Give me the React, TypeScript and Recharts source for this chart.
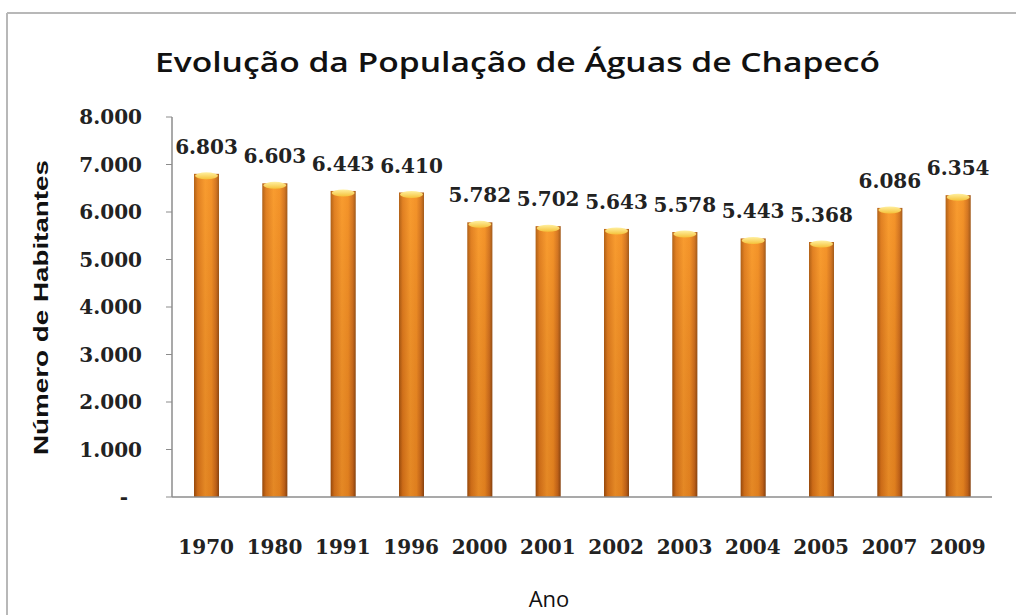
import React from 'react';
import { BarChart, Bar, XAxis, YAxis, LabelList } from 'recharts';

const years = ['1970', '1980', '1991', '1996', '2000', '2001', '2002', '2003', '2004', '2005', '2007', '2009'];
const population = [6803, 6603, 6443, 6410, 5782, 5702, 5643, 5578, 5443, 5368, 6086, 6354];
const yTicks = [0, 1000, 2000, 3000, 4000, 5000, 6000, 7000, 8000];

const data = years.map((year, i) => ({ year, value: population[i] }));

const fmt = (v: number) => {
  if (v === 0) return '-';
  const th = Math.floor(v / 1000);
  const rest = String(v % 1000).padStart(3, '0');
  return `${th}.${rest}`;
};

const serif = '"DejaVu Serif", serif';

const YTick = (props: any) => {
  const { x, y, payload } = props;
  const v = payload.value;
  if (v === 0) {
    return (
      <text x={x - 18} y={y} dy="0.35em" textAnchor="middle" fontFamily={serif} fontWeight="bold" fontSize={20} fill="#222">
        -
      </text>
    );
  }
  return (
    <text x={x} y={y} dy="0.35em" textAnchor="end" fontFamily={serif} fontWeight="bold" fontSize={20} fill="#222">
      {fmt(v)}
    </text>
  );
};

const XTick = (props: any) => {
  const { x, y, payload } = props;
  return (
    <text x={x} y={y} dy="0.71em" textAnchor="middle" fontFamily={serif} fontWeight="bold" fontSize={20} fill="#222">
      {payload.value}
    </text>
  );
};

const BarShape = (props: any) => {
  const { x, y, width, height } = props;
  if (!height || height <= 0) return null;
  return (
    <g>
      <rect x={x} y={y} width={width} height={height} fill="url(#barGrad)" />
      <rect x={x} y={y} width={width} height={height} fill="url(#barShade)" />
      <ellipse cx={x + width / 2} cy={y + 2} rx={width / 2 - 1} ry={3.5} fill="url(#capGrad)" />
    </g>
  );
};

export default function App() {
  return (
    <div style={{ position: 'absolute', left: 0, top: 0, width: 1016, height: 615, overflow: 'hidden', background: '#fff' }}>
      <svg width={1016} height={615} style={{ position: 'absolute', left: 0, top: 0 }}>
        <line x1={7} y1={13} x2={1016} y2={13} stroke="#b8b8b8" strokeWidth={2} />
        <line x1={7} y1={13} x2={7} y2={615} stroke="#b8b8b8" strokeWidth={2} />
        <text
          x={155}
          y={72}
          fontFamily='"Open Sans", sans-serif'
          fontWeight={600}
          fontSize={27}
          fill="#111"
          textLength={725}
          lengthAdjust="spacingAndGlyphs"
        >
          Evolução da População de Águas de Chapecó
        </text>
        <text
          transform="translate(48, 455) rotate(-90)"
          x={0}
          y={0}
          fontFamily='"Liberation Sans", Arial, sans-serif'
          fontWeight="bold"
          fontSize={21}
          fill="#111"
          textLength={295}
          lengthAdjust="spacingAndGlyphs"
        >
          Número de Habitantes
        </text>
        <text x={549} y={607} textAnchor="middle" fontFamily='"Open Sans", sans-serif' fontSize={22} fill="#111">
          Ano
        </text>
      </svg>
      <div style={{ position: 'absolute', left: 0, top: 0 }}>
        <BarChart width={1016} height={615} data={data} margin={{ top: 117, right: 24, left: 22, bottom: 58 }}>
          <defs>
            <linearGradient id="barGrad" x1="0" y1="0" x2="1" y2="0">
              <stop offset="0%" stopColor="#9a4a0c" />
              <stop offset="15%" stopColor="#d9731a" />
              <stop offset="45%" stopColor="#f7962a" />
              <stop offset="70%" stopColor="#f08a22" />
              <stop offset="88%" stopColor="#c8661a" />
              <stop offset="100%" stopColor="#874210" />
            </linearGradient>
            <linearGradient id="barShade" x1="0" y1="0" x2="0" y2="1">
              <stop offset="0%" stopColor="#ffb040" stopOpacity={0.25} />
              <stop offset="100%" stopColor="#7a3a08" stopOpacity={0.15} />
            </linearGradient>
            <linearGradient id="capGrad" x1="0" y1="0" x2="0" y2="1">
              <stop offset="0%" stopColor="#fff0a0" />
              <stop offset="100%" stopColor="#f5c23a" />
            </linearGradient>
          </defs>
          <XAxis
            dataKey="year"
            height={60}
            tickLine={false}
            tickMargin={37}
            axisLine={{ stroke: '#8c8c8c', strokeWidth: 1.5 }}
            tick={<XTick />}
            interval={0}
          />
          <YAxis
            width={150}
            domain={[0, 8000]}
            ticks={yTicks}
            interval={0}
            tickSize={6}
            tickMargin={24}
            tickLine={{ stroke: '#8c8c8c' }}
            axisLine={{ stroke: '#8c8c8c', strokeWidth: 1.5 }}
            tick={<YTick />}
          />
          <Bar dataKey="value" barSize={25} isAnimationActive={false} shape={<BarShape />}>
            <LabelList
              dataKey="value"
              position="top"
              offset={20}
              formatter={(v: any) => fmt(Number(v))}
              style={{ fontFamily: serif, fontSize: 20, fontWeight: 'bold', fill: '#222' }}
            />
          </Bar>
        </BarChart>
      </div>
    </div>
  );
}
